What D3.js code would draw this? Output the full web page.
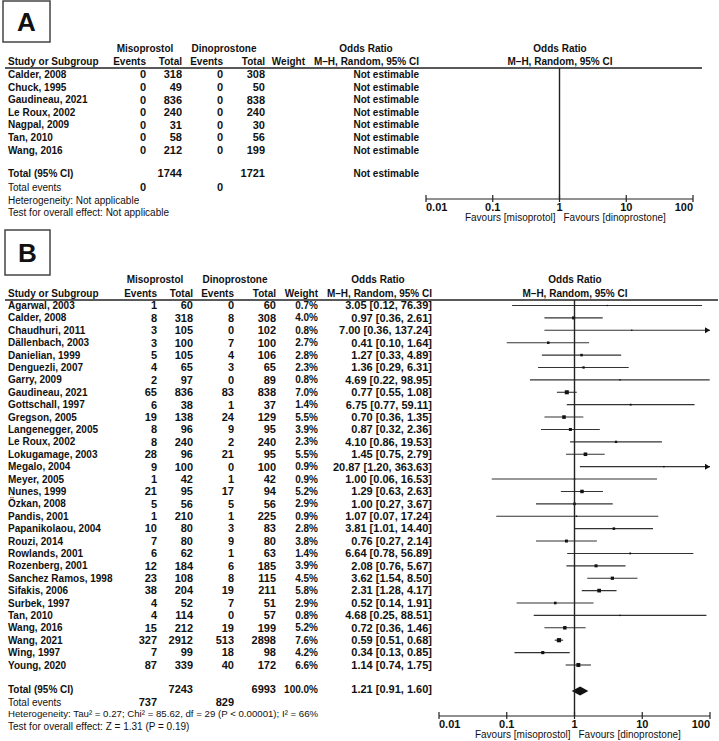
<!DOCTYPE html>
<html><head><meta charset="utf-8">
<script src="https://cdn.jsdelivr.net/npm/d3@7"></script>
<style>
html,body{margin:0;padding:0;background:#fff;}
svg text{font-family:"Liberation Sans",Arial,sans-serif;font-size:10px;fill:#111;}
.b{font-weight:bold;}
.n{font-weight:bold;font-size:11px;}
.h{font-size:9.66px;}
</style></head>
<body>
<svg id="c" width="719" height="741"></svg>
<script>
// ---------- Panel A data ----------
const studiesA = ["Calder, 2008","Chuck, 1995","Gaudineau, 2021","Le Roux, 2002","Nagpal, 2009","Tan, 2010","Wang, 2016"];
const misEventsA = [0,0,0,0,0,0,0];
const misTotalA  = [318,49,836,240,31,58,212];
const dinEventsA = [0,0,0,0,0,0,0];
const dinTotalA  = [308,50,838,240,30,56,199];

// ---------- Panel B data ----------
const studiesB = ["Agarwal, 2003","Calder, 2008","Chaudhuri, 2011","Dällenbach, 2003","Danielian, 1999","Denguezli, 2007","Garry, 2009","Gaudineau, 2021","Gottschall, 1997","Gregson, 2005","Langenegger, 2005","Le Roux, 2002","Lokugamage, 2003","Megalo, 2004","Meyer, 2005","Nunes, 1999","Özkan, 2008","Pandis, 2001","Papanikolaou, 2004","Rouzi, 2014","Rowlands, 2001","Rozenberg, 2001","Sanchez Ramos, 1998","Sifakis, 2006","Surbek, 1997","Tan, 2010","Wang, 2016","Wang, 2021","Wing, 1997","Young, 2020"];
const misEventsB = [1,8,3,3,5,4,2,65,6,19,8,8,28,9,1,21,5,1,10,7,6,12,23,38,4,4,15,327,7,87];
const misTotalB  = [60,318,105,100,105,65,97,836,38,138,96,240,96,100,42,95,56,210,80,80,62,184,108,204,52,114,212,2912,99,339];
const dinEventsB = [0,8,0,7,4,3,0,83,1,24,9,2,21,0,1,17,5,1,3,9,1,6,8,19,7,0,19,513,18,40];
const dinTotalB  = [60,308,102,100,106,65,89,838,37,129,95,240,95,100,42,94,56,225,83,80,63,185,115,211,51,57,199,2898,98,172];
const weightB    = [0.7,4.0,0.8,2.7,2.8,2.3,0.8,7.0,1.4,5.5,3.9,2.3,5.5,0.9,0.9,5.2,2.9,0.9,2.8,3.8,1.4,3.9,4.5,5.8,2.9,0.8,5.2,7.6,4.2,6.6];
const orB        = [3.05,0.97,7.00,0.41,1.27,1.36,4.69,0.77,6.75,0.70,0.87,4.10,1.45,20.87,1.00,1.29,1.00,1.07,3.81,0.76,6.64,2.08,3.62,2.31,0.52,4.68,0.72,0.59,0.34,1.14];
const loB        = [0.12,0.36,0.36,0.10,0.33,0.29,0.22,0.55,0.77,0.36,0.32,0.86,0.75,1.20,0.06,0.63,0.27,0.07,1.01,0.27,0.78,0.76,1.54,1.28,0.14,0.25,0.36,0.51,0.13,0.74];
const hiB        = [76.39,2.61,137.24,1.64,4.89,6.31,98.95,1.08,59.11,1.35,2.36,19.53,2.79,363.63,16.53,2.63,3.67,17.24,14.40,2.14,56.89,5.67,8.50,4.17,1.91,88.51,1.46,0.68,0.85,1.75];
const totalB = {misTotal:7243, dinTotal:6993, misEvents:737, dinEvents:829, weight:"100.0%", or:1.21, lo:0.91, hi:1.60};
const totalA = {misTotal:1744, dinTotal:1721, misEvents:0, dinEvents:0};
const tickVals = [0.01,0.1,1,10,100];
const tickLabels = ["0.01","0.1","1","10","100"];

const svg = d3.select("#c");
const f2 = d3.format(".2f");
const orText = (o,l,h) => `${f2(o)} [${f2(l)}, ${f2(h)}]`;

function txt(x,y,s,anchor,cls){
  return svg.append("text").attr("x",x).attr("y",y).attr("dy","0.35em")
    .attr("text-anchor",anchor||"start").attr("class",cls||null).text(s);
}

function panel(cfg){
  svg.append("rect").attr("x",cfg.box[0]).attr("y",cfg.box[1]).attr("width",cfg.box[2]).attr("height",cfg.box[3])
    .attr("fill","none").attr("stroke","#444").attr("stroke-width",1.5);
  svg.append("text").attr("x",cfg.box[0]+cfg.box[2]/2).attr("y",cfg.box[1]+cfg.box[3]/2).attr("dy","0.36em")
    .attr("text-anchor","middle").style("font-size","26px").style("font-weight","bold").text(cfg.letter);
  const c = cfg.cols;
  txt(c.misC,cfg.h1,"Misoprostol","middle","b");
  txt(c.dinC,cfg.h1,"Dinoprostone","middle","b");
  txt(c.orC,cfg.h1,"Odds Ratio","middle","b");
  txt(cfg.plotC,cfg.h1,"Odds Ratio","middle","b");
  txt(8,cfg.h2,"Study or Subgroup","start","b");
  txt(c.ev1,cfg.h2,"Events","end","b");
  txt(c.tot1,cfg.h2,"Total","end","b");
  txt(c.ev2,cfg.h2,"Events","end","b");
  txt(c.tot2,cfg.h2,"Total","end","b");
  txt(c.w,cfg.h2,"Weight","end","b");
  txt(c.or,cfg.h2,"M\u2013H, Random, 95% CI","end","b");
  txt(cfg.plotC,cfg.h2,"M\u2013H, Random, 95% CI","middle","b");
  svg.append("line").attr("x1",5).attr("x2",cfg.lineEnd).attr("y1",cfg.sep).attr("y2",cfg.sep)
    .attr("stroke","#222").attr("stroke-width",1.3);
}

function axis(x,y,top,favL,favR){
  const g = svg.append("g");
  g.append("line").attr("x1",x.range()[0]).attr("x2",x.range()[1]).attr("y1",y).attr("y2",y).attr("stroke","#222").attr("stroke-width",1.2);
  tickVals.forEach((v,i)=>{
    g.append("line").attr("x1",x(v)).attr("x2",x(v)).attr("y1",y-4).attr("y2",y+3).attr("stroke","#222").attr("stroke-width",1.2);
    const anchor = i===0?"start":(i===tickVals.length-1?"end":"middle");
    txt(x(v),y+8,tickLabels[i],anchor,"n");
  });
  svg.append("line").attr("x1",x(1)).attr("x2",x(1)).attr("y1",top).attr("y2",y).attr("stroke","#222").attr("stroke-width",1.4);
  txt(x(1)-4,y+18.5,favL,"end");
  txt(x(1)+4,y+18.5,favR,"start");
}

// ================= Panel A =================
const colsA = {ev1:146,tot1:182,ev2:223,tot2:265,w:305,or:419,misC:145,dinC:224,orC:366};
panel({box:[3,1,47,41],letter:"A",cols:colsA,h1:48,h2:61,sep:68,plotC:560,lineEnd:702});
const yA = d3.scaleLinear().domain([0,1]).range([74.5,87.1]);
studiesA.forEach((s,i)=>{
  const y = yA(i);
  txt(8,y,s,"start","b");
  txt(colsA.ev1,y,misEventsA[i],"end","n");
  txt(colsA.tot1,y,misTotalA[i],"end","n");
  txt(colsA.ev2,y,dinEventsA[i],"end","n");
  txt(colsA.tot2,y,dinTotalA[i],"end","n");
  txt(colsA.or,y,"Not estimable","end","b");
});
txt(8,173,"Total (95% CI)","start","b");
txt(colsA.tot1,173,totalA.misTotal,"end","n");
txt(colsA.tot2,173,totalA.dinTotal,"end","n");
txt(colsA.or,173,"Not estimable","end","b");
txt(8,187,"Total events");
txt(colsA.ev1,187,totalA.misEvents,"end","n");
txt(colsA.ev2,187,totalA.dinEvents,"end","n");
txt(8,200,"Heterogeneity: Not applicable");
txt(8,212,"Test for overall effect: Not applicable");
const xA = d3.scaleLog().domain([0.01,100]).range([426,693]);
axis(xA,199,68,"Favours [misoprotol]","Favours [dinoprostone]");

// ================= Panel B =================
const colsB = {ev1:157,tot1:193,ev2:234,tot2:276,w:318,or:432,misC:155,dinC:235,orC:378};
panel({box:[5,230,45,45],letter:"B",cols:colsB,h1:279,h2:293,sep:300,plotC:575,lineEnd:718});
const yB = d3.scaleLinear().domain([0,29]).range([305.5,665]);
const xB = d3.scaleLog().domain([0.01,100]).range([439,710]).clamp(true);
const sq = d3.scaleSqrt().domain([0,7.6]).range([0,4.2]);

studiesB.forEach((s,i)=>{
  const y = yB(i);
  txt(8,y,s,"start","b");
  txt(colsB.ev1,y,misEventsB[i],"end","n");
  txt(colsB.tot1,y,misTotalB[i],"end","n");
  txt(colsB.ev2,y,dinEventsB[i],"end","n");
  txt(colsB.tot2,y,dinTotalB[i],"end","n");
  txt(colsB.w,y,weightB[i].toFixed(1)+"%","end","b");
  txt(colsB.or,y,orText(orB[i],loB[i],hiB[i]),"end","n");
  const x1 = xB(loB[i]), x2 = xB(hiB[i]);
  svg.append("line").attr("x1",x1).attr("x2",x2).attr("y1",y).attr("y2",y).attr("stroke","#333").attr("stroke-width",1.1);
  if(hiB[i]>100){
    svg.append("path").attr("d",`M${x2},${y} l-5,-3 l0,6 z`).attr("fill","#111");
  }
  const s2 = sq(weightB[i]);
  svg.append("rect").attr("x",xB(orB[i])-s2/2).attr("y",y-s2/2).attr("width",s2).attr("height",s2).attr("fill","#111");
});
txt(8,689,"Total (95% CI)","start","b");
txt(colsB.tot1,689,totalB.misTotal,"end","n");
txt(colsB.tot2,689,totalB.dinTotal,"end","n");
txt(colsB.w,689,totalB.weight,"end","b");
txt(colsB.or,689,orText(totalB.or,totalB.lo,totalB.hi),"end","n");
txt(8,702,"Total events");
txt(colsB.ev1,702,totalB.misEvents,"end","n");
txt(colsB.ev2,702,totalB.dinEvents,"end","n");
txt(8,714,"Heterogeneity: Tau\u00B2 = 0.27; Chi\u00B2 = 85.62, df = 29 (P < 0.00001); I\u00B2 = 66%","start","h");
txt(8,726,"Test for overall effect: Z = 1.31 (P = 0.19)");
const dy0 = 691;
svg.append("path").attr("d",`M${xB(totalB.lo)},${dy0} L${xB(totalB.or)},${dy0-4.5} L${xB(totalB.hi)},${dy0} L${xB(totalB.or)},${dy0+4.5} Z`).attr("fill","#111");
axis(xB,716,300,"Favours [misoprostol]","Favours [dinoprostone]");
</script>
</body></html>
